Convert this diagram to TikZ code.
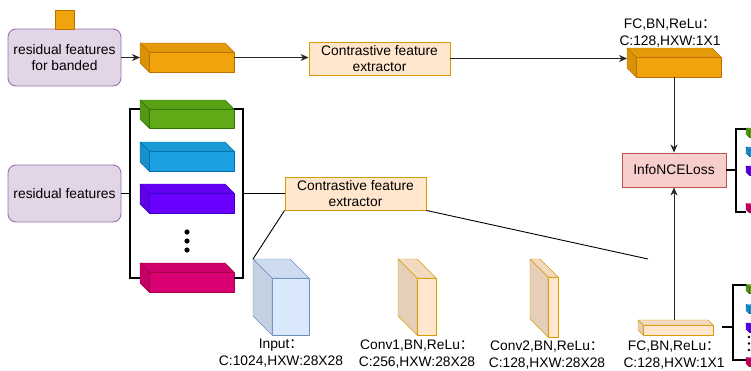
\documentclass[tikz,border=0pt]{standalone}
\usepackage{fontspec}
\setmainfont{Liberation Sans}
\newfontfamily\cjk{Noto Sans CJK SC}
\usetikzlibrary{arrows.meta,calc}

\definecolor{orangeF}{HTML}{F0A30A}\definecolor{orangeS}{HTML}{BD7000}
\definecolor{greenF}{HTML}{60A917}\definecolor{greenS}{HTML}{2D7600}
\definecolor{blueF}{HTML}{1BA1E2}\definecolor{blueS}{HTML}{006EAF}
\definecolor{purpleF}{HTML}{6A00FF}\definecolor{purpleS}{HTML}{3700CC}
\definecolor{pinkF}{HTML}{D80073}\definecolor{pinkS}{HTML}{A50040}
\definecolor{peachF}{HTML}{FFE6CC}\definecolor{peachS}{HTML}{D79B00}
\definecolor{lblueF}{HTML}{DAE8FC}\definecolor{lblueS}{HTML}{6C8EBF}
\definecolor{lilacF}{HTML}{E1D5E7}\definecolor{lilacS}{HTML}{9673A6}
\definecolor{roseF}{HTML}{F8CECC}\definecolor{roseS}{HTML}{B85450}

\newcommand\fwcolon{{\cjk ：}}

% cuboid: name, centre x, centre y, width, height, depth, fill, stroke
\newcommand\cubeblock[8]{%
  \node[inner sep=0pt, outer sep=0pt, minimum width=#4pt, minimum height=#5pt] (#1) at (#2,#3) {};
  \filldraw[fill=#7, draw=#8, line join=round] ($(#1.north west)+(#6,#6)$) rectangle (#1.south east);
  \filldraw[fill=#7!95!black, draw=#8, line join=round] (#1.north west) -- ($(#1.north east)+(-#6,0)$)
     -- ($(#1.north east)+(0,#6)$) -- ($(#1.north west)+(#6,#6)$) -- cycle;
  \filldraw[fill=#7!90!black, draw=#8, line join=round] (#1.north west) -- ($(#1.north west)+(#6,#6)$)
     -- ($(#1.south west)+(#6,0)$) -- ($(#1.south west)+(0,-#6)$) -- cycle;
}

\begin{document}
\begin{tikzpicture}[x=1pt, y=-1pt,
  txt/.style={font=\fontsize{13.8}{16}\selectfont, align=center, inner sep=0pt},
  lbl/.style={font=\fontsize{13.8}{17}\selectfont, align=center, inner sep=0pt},
  box/.style={txt, draw, line width=0.9pt},
  conn/.style={draw=black!85, line width=0.9pt, -{Stealth[length=8pt,width=7pt,inset=2.5pt]}},
  plain/.style={draw=black, line width=0.9pt},
  bracket/.style={draw=black, line width=1.8pt},
  dotmark/.style={fill=black}]
\useasboundingbox (0,0) rectangle (751,370);

% ---- input boxes ----
\node[box, rounded corners=8pt, fill=lilacF, draw=lilacS, minimum width=113pt, minimum height=57pt]
  (banded) at (64.5,57.5) {residual features\\for banded};
\node[draw=orangeS, fill=orangeF, line width=0.8pt, minimum width=19pt, minimum height=19pt, inner sep=0pt]
  (tag) at (64.5,19.5) {};
\node[box, rounded corners=8pt, fill=lilacF, draw=lilacS, minimum width=113pt, minimum height=57pt]
  (resid) at (64.5,193.5) {residual features};

% ---- feature extractors and loss ----
\node[box, fill=peachF, draw=peachS, minimum width=141pt, minimum height=33pt]
  (cfe1) at (379.5,58.5) {Contrastive feature\\extractor};
\node[box, fill=peachF, draw=peachS, minimum width=141pt, minimum height=33pt]
  (cfe2) at (355.5,193.5) {Contrastive feature\\extractor};
\node[box, fill=roseF, draw=roseS, minimum width=104pt, minimum height=34pt]
  (info) at (674,170) {InfoNCELoss};

% ---- feature cuboids ----
\cubeblock{topcube}{187}{57.5}{94}{29}{9}{orangeF}{orangeS}
\cubeblock{fctop}{674}{62.5}{94}{29}{9}{orangeF}{orangeS}
\cubeblock{green}{187}{114}{94}{28}{9}{greenF}{greenS}
\cubeblock{blue}{187}{156.5}{94}{29}{9}{blueF}{blueS}
\cubeblock{purple}{187}{198.5}{94}{29}{9}{purpleF}{purpleS}
\cubeblock{pink}{187}{277.5}{94}{29}{9}{pinkF}{pinkS}
\foreach \yy in {232,241,250} \fill[dotmark] (187,\yy) circle (2.6);

% ---- extractor layers ----
\cubeblock{input}{281}{297}{56}{76}{19}{lblueF}{lblueS}
\cubeblock{conv1}{417}{297}{38}{76}{19}{peachF}{peachS}
\cubeblock{conv2}{544}{298}{28}{78}{18}{peachF}{peachS}
\cubeblock{fcbot}{675.5}{327.5}{75}{15}{5}{peachF}{peachS}

\node[lbl] (fctoplbl) at (670,33) {FC,BN,ReLu\fwcolon\\C:128,HXW:1X1};
\node[lbl] (inputlbl) at (281,353) {Input\fwcolon\\C:1024,HXW:28X28};
\node[lbl] (conv1lbl) at (417,354) {Conv1,BN,ReLu\fwcolon\\C:256,HXW:28X28};
\node[lbl] (conv2lbl) at (547,355) {Conv2,BN,ReLu\fwcolon\\C:128,HXW:28X28};
\node[lbl] (fcbotlbl) at (674,355) {FC,BN,ReLu\fwcolon\\C:128,HXW:1X1};

% ---- small cuboid groups at the right edge ----
\begin{scope}
  \clip (0,0) rectangle (751,370);
  \cubeblock{sg1}{761}{132.5}{30}{9}{3}{greenF}{greenS}
  \cubeblock{sb1}{761}{151.5}{30}{9}{3}{blueF}{blueS}
  \cubeblock{sp1}{761}{170.5}{30}{9}{3}{purpleF}{purpleS}
  \cubeblock{sk1}{761}{208}{30}{9}{3}{pinkF}{pinkS}
  \cubeblock{sg2}{761}{289}{30}{9}{3}{greenF}{greenS}
  \cubeblock{sb2}{761}{309}{30}{9}{3}{blueF}{blueS}
  \cubeblock{sp2}{761}{327.5}{30}{9}{3}{purpleF}{purpleS}
  \cubeblock{sk2}{761}{362}{30}{9}{3}{pinkF}{pinkS}
  \foreach \yy in {337,343.5,350} \fill[dotmark] (749,\yy) circle (1.3);
\end{scope}

% ---- connectors ----
\draw[conn] (banded.east) -- (topcube.west);
\draw[conn] (topcube.east) -- (topcube.east -| cfe1.west);
\draw[conn] (cfe1.east) -- (cfe1.east -| fctop.west);
\draw[conn] (fctop.south -| info.north) -- (info.north);
\draw[conn] (info.south |- fcbot.north) -- (info.south);

% brackets around the banded feature stack
\coordinate (lbt) at (130,109);
\coordinate (lbb) at (130,278);
\coordinate (rbt) at (243,109);
\coordinate (rbb) at (243,278);
\draw[bracket] (resid.east) -- (resid.east -| lbt);
\draw[bracket] (green.west |- lbt) -- (lbt) -- (lbb) -- (pink.west |- lbb);
\draw[bracket] (green.east |- rbt) -- (rbt) -- (rbb) -- (pink.east |- rbb);
\draw[bracket] (rbt |- cfe2.west) -- (cfe2.west);

% zoom lines from the extractor to its layers
\coordinate (zoomend) at (648,259);
\draw[plain] (cfe2.south west) -- (input.north west);
\draw[plain] (cfe2.south east) -- (zoomend);

% brackets at the right edge
\coordinate (ubt) at (736,129);
\coordinate (ubb) at (736,212);
\draw[bracket] (info.east) -- (info.east -| ubt);
\draw[bracket] (sg1.west |- ubt) -- (ubt) -- (ubb) -- (sk1.west |- ubb);
\coordinate (dbt) at (733,285);
\coordinate (dbb) at (733,360);
\coordinate (fctick) at (722,327);
\draw[bracket] (fctick) -- (fctick -| dbt);
\draw[bracket] (sg2.west |- dbt) -- (dbt) -- (dbb) -- (sk2.west |- dbb);
\end{tikzpicture}
\end{document}
